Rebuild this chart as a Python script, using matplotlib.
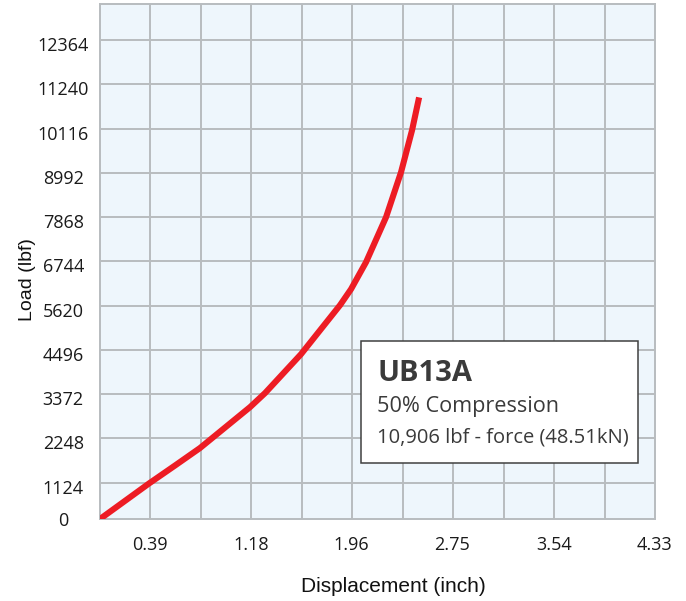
import matplotlib
matplotlib.use('Agg')
import matplotlib.pyplot as plt
import matplotlib.transforms as mtransforms
from matplotlib.patches import Rectangle

# displacement (inch) vs load (lbf)
displacement = [0.0, 0.382, 0.585, 0.780, 1.171, 1.288, 1.569, 1.873, 1.959, 2.076, 2.232, 2.349, 2.435, 2.49]
load = [203, 1104, 1560, 2004, 3044, 3400, 4389, 5632, 6039, 6724, 7865, 9007, 10073, 10906]

x_tick_labels = ['0.39', '1.18', '1.96', '2.75', '3.54', '4.33']
y_tick_labels = ['0', '1124', '2248', '3372', '4496', '5620', '6744', '7868', '8992', '10116', '11240', '12364']

title = 'UB13A'
subtitle = '50% Compression'
force_text = '10,906 lbf - force (48.51kN)'

cm = 0.3937
y_bottom, y_top = 203, 13277

fig = plt.figure(figsize=(6.86, 6.01), dpi=100)
W, H = 686, 601
ax = fig.add_axes([100 / W, (H - 519) / H, 555 / W, 515 / H])
ax.set_facecolor('#eef6fc')
ax.set_xlim(0, 11 * cm)
ax.set_ylim(y_bottom, y_top)

grid_color = '#b8bcbf'
for i in range(1, 11):
    ax.axvline(i * cm, color=grid_color, lw=1.4, zorder=1)
for v in y_tick_labels[1:]:
    ax.axhline(int(v), color=grid_color, lw=1.4, zorder=1)

ax.plot(displacement, load, color='#ed1c24', lw=4.4, solid_capstyle='butt',
        solid_joinstyle='round', zorder=3)

for s in ax.spines.values():
    s.set_color(grid_color)
    s.set_linewidth(1.4)

tick_font = dict(family='Open Sans', size=13, color='#1a1a1a')
ax.set_xticks([float(t) for t in x_tick_labels], x_tick_labels, **tick_font)
ax.set_yticks([y_bottom] + [int(v) for v in y_tick_labels[1:]], y_tick_labels, **tick_font)
ax.tick_params(axis='both', length=0)
ax.tick_params(axis='x', pad=12)
ax.tick_params(axis='y', pad=26.5)
for lab in ax.get_yticklabels():
    lab.set_horizontalalignment('center')
offset = mtransforms.ScaledTranslation(0, -4 / 100, fig.dpi_scale_trans)
for lab in ax.get_yticklabels()[1:]:
    lab.set_transform(lab.get_transform() + offset)

fig.text(393 / W, 1 - 586 / H, 'Displacement (inch)', ha='center', va='center',
         family='Liberation Sans', size=15, color='#111111')
fig.text(27 / W, 1 - 280 / H, 'Load (lbf)', ha='center', va='center', rotation=90,
         family='Liberation Sans', size=14, color='#111111')

# info box
box = Rectangle((361 / W, 1 - 463 / H), 277 / W, 122 / H, transform=fig.transFigure,
                facecolor='white', edgecolor='#404040', lw=1.1, zorder=5)
fig.patches.append(box)
fig.text(377 / W, 1 - 381 / H, title, ha='left', va='baseline', family='Open Sans',
         weight='bold', size=21, color='#3a3a3a', zorder=6)
fig.text(377 / W, 1 - 412 / H, subtitle, ha='left', va='baseline', family='Open Sans',
         size=15.6, color='#3a3a3a', zorder=6)
fig.text(377 / W, 1 - 443 / H, force_text, ha='left', va='baseline', family='Open Sans',
         size=14.5, color='#3a3a3a', zorder=6)

fig.savefig('out.png', dpi=100)
